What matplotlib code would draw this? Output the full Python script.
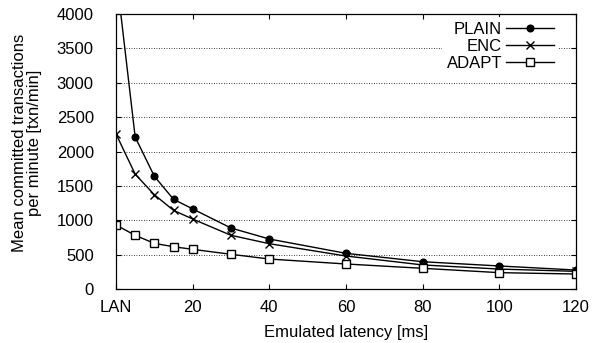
import matplotlib
matplotlib.use("Agg")
import matplotlib.pyplot as plt

latency = [0, 5, 10, 15, 20, 30, 40, 60, 80, 100, 120]
plain = [4600, 2210, 1640, 1305, 1165, 887, 727, 519, 397, 335, 276]
enc = [2255, 1670, 1372, 1144, 1018, 781, 659, 480, 350, 290, 257]
adapt = [931, 781, 664, 615, 577, 505, 436, 364, 301, 238, 218]

xticks = [0, 20, 40, 60, 80, 100, 120]
xticklabels = ["LAN", "20", "40", "60", "80", "100", "120"]
yticks = [0, 500, 1000, 1500, 2000, 2500, 3000, 3500, 4000]

plt.rcParams["font.family"] = ["Liberation Sans", "DejaVu Sans"]
plt.rcParams["font.size"] = 12

fig = plt.figure(figsize=(5.94, 3.43), dpi=100)
ax = fig.add_axes([0.1953, 0.1574, 0.7744, 0.8018])

ax.plot(latency, plain, color="black", lw=1, marker="o", ms=4.8, label="PLAIN")
ax.plot(latency, enc, color="black", lw=1, marker="x", ms=5.5, mew=1, label="ENC")
ax.plot(latency, adapt, color="black", lw=1, marker="s", ms=6.2, mfc="white", mew=1, label="ADAPT")

ax.set_xlim(0, 120)
ax.set_ylim(0, 4000)
ax.set_xticks(xticks)
ax.set_xticklabels(xticklabels)
ax.set_yticks(yticks)
ax.tick_params(direction="in", top=True, right=True, length=3.6, width=0.8)
ax.tick_params(axis="x", pad=8)
ax.tick_params(axis="y", pad=16)
for s in ax.spines.values():
    s.set_linewidth(0.9)
ax.yaxis.grid(True, linestyle=(0, (1, 2)), color="black", lw=0.6)
ax.set_axisbelow(True)

ax.set_xlabel("Emulated latency [ms]", labelpad=7)
ax.set_ylabel("Mean committed transactions\nper minute [txn/min]", linespacing=1.0)
ax.yaxis.set_label_coords(-0.161, 0.53)

leg = ax.legend(loc="upper right", markerfirst=False, frameon=True, fancybox=False,
                edgecolor="white", framealpha=1, handlelength=2.9, borderaxespad=0.2,
                labelspacing=0.12, handletextpad=0.2, borderpad=0.3,
                bbox_to_anchor=(0.97, 1.0))
for t in leg.get_texts():
    t.set_ha("right")
leg.get_frame().set_linewidth(0)

fig.savefig("out.png", dpi=100)
